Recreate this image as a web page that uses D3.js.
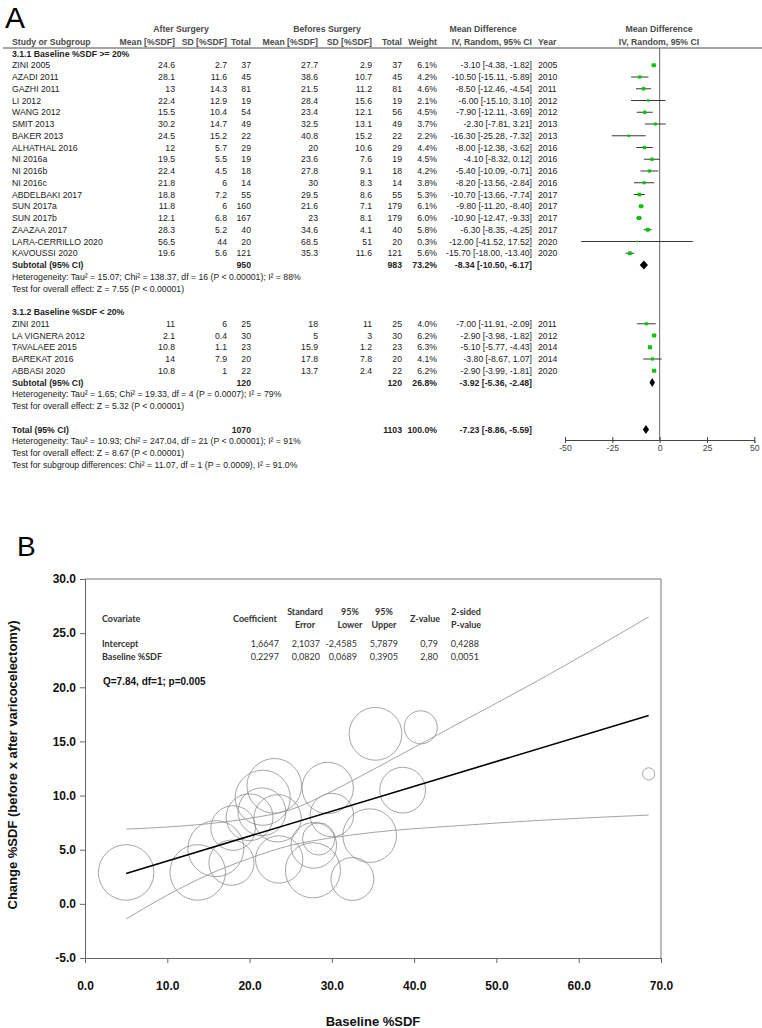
<!DOCTYPE html>
<html>
<head>
<meta charset="utf-8">
<script src="https://cdn.jsdelivr.net/npm/d3@7.9.0/dist/d3.min.js"></script>
<style>
  body { margin: 0; background: #fff; }
  svg { display: block; font-family: "Liberation Sans", Arial, sans-serif; }
</style>
</head>
<body>
<svg id="chart" width="762" height="1028"></svg>
<script>
// ---------- panel A : forest plot data ----------
const studies = ['ZINI 2005', 'AZADI 2011', 'GAZHI 2011', 'LI 2012', 'WANG 2012', 'SMIT 2013', 'BAKER 2013',
  'ALHATHAL 2016', 'NI 2016a', 'NI 2016b', 'NI 2016c', 'ABDELBAKI 2017', 'SUN 2017a', 'SUN 2017b',
  'ZAAZAA 2017', 'LARA-CERRILLO 2020', 'KAVOUSSI 2020',
  'ZINI 2011', 'LA VIGNERA 2012', 'TAVALAEE 2015', 'BAREKAT 2016', 'ABBASI 2020'];
const subgroup = [0, 0, 0, 0, 0, 0, 0, 0, 0, 0, 0, 0, 0, 0, 0, 0, 0, 1, 1, 1, 1, 1];
const afterMean = [24.6, 28.1, 13, 22.4, 15.5, 30.2, 24.5, 12, 19.5, 22.4, 21.8, 18.8, 11.8, 12.1, 28.3, 56.5, 19.6,
  11, 2.1, 10.8, 14, 10.8];
const afterSD = [2.7, 11.6, 14.3, 12.9, 10.4, 14.7, 15.2, 5.7, 5.5, 4.5, 6, 7.2, 6, 6.8, 5.2, 44, 5.6,
  6, 0.4, 1.1, 7.9, 1];
const afterN = [37, 45, 81, 19, 54, 49, 22, 29, 19, 18, 14, 55, 160, 167, 40, 20, 121, 25, 30, 23, 20, 22];
const beforeMean = [27.7, 38.6, 21.5, 28.4, 23.4, 32.5, 40.8, 20, 23.6, 27.8, 30, 29.5, 21.6, 23, 34.6, 68.5, 35.3,
  18, 5, 15.9, 17.8, 13.7];
const beforeSD = [2.9, 10.7, 11.2, 15.6, 12.1, 13.1, 15.2, 10.6, 7.6, 9.1, 8.3, 8.6, 7.1, 8.1, 4.1, 51, 11.6,
  11, 3, 1.2, 7.8, 2.4];
const beforeN = [37, 45, 81, 19, 56, 49, 22, 29, 19, 18, 14, 55, 179, 179, 40, 20, 121, 25, 30, 23, 20, 22];
const weights = [6.1, 4.2, 4.6, 2.1, 4.5, 3.7, 2.2, 4.4, 4.5, 4.2, 3.8, 5.3, 6.1, 6.0, 5.8, 0.3, 5.6,
  4.0, 6.2, 6.3, 4.1, 6.2];
const md = [-3.10, -10.50, -8.50, -6.00, -7.90, -2.30, -16.30, -8.00, -4.10, -5.40, -8.20, -10.70, -9.80, -10.90,
  -6.30, -12.00, -15.70, -7.00, -2.90, -5.10, -3.80, -2.90];
const ciLow = [-4.38, -15.11, -12.46, -15.10, -12.11, -7.81, -25.28, -12.38, -8.32, -10.09, -13.56, -13.66, -11.20,
  -12.47, -8.35, -41.52, -18.00, -11.91, -3.98, -5.77, -8.67, -3.99];
const ciHigh = [-1.82, -5.89, -4.54, 3.10, -3.69, 3.21, -7.32, -3.62, 0.12, -0.71, -2.84, -7.74, -8.40, -9.33,
  -4.25, 17.52, -13.40, -2.09, -1.82, -4.43, 1.07, -1.81];
const years = [2005, 2010, 2011, 2012, 2012, 2013, 2013, 2016, 2016, 2016, 2016, 2017, 2017, 2017, 2017, 2020, 2020,
  2011, 2012, 2014, 2014, 2020];

const subLabels = ['3.1.1 Baseline %SDF >= 20%', '3.1.2 Baseline %SDF < 20%'];
const subAfterN = [950, 120];
const subBeforeN = [983, 120];
const subWeight = ['73.2%', '26.8%'];
const subMD = [-8.34, -3.92];
const subLow = [-10.50, -5.36];
const subHigh = [-6.17, -2.48];
const subHet = ['Heterogeneity: Tau² = 15.07; Chi² = 138.37, df = 16 (P < 0.00001); I² = 88%',
  'Heterogeneity: Tau² = 1.65; Chi² = 19.33, df = 4 (P = 0.0007); I² = 79%'];
const subTest = ['Test for overall effect: Z = 7.55 (P < 0.00001)',
  'Test for overall effect: Z = 5.32 (P < 0.00001)'];

const totalAfterN = 1070, totalBeforeN = 1103, totalWeight = '100.0%';
const totalMD = [-7.23, -8.86, -5.59];
const totalNotes = ['Heterogeneity: Tau² = 10.93; Chi² = 247.04, df = 21 (P < 0.00001); I² = 91%',
  'Test for overall effect: Z = 8.67 (P < 0.00001)',
  'Test for subgroup differences: Chi² = 11.07, df = 1 (P = 0.0009), I² = 91.0%'];
const forestTicks = [-50, -25, 0, 25, 50];

// ---------- panel B : meta-regression ----------
const covariates = ['Intercept', 'Baseline %SDF'];
const coef = [1.6647, 0.2297];
const stdErr = [2.1037, 0.0820];
const lower95 = [-2.4585, 0.0689];
const upper95 = [5.7879, 0.3905];
const zValue = [0.79, 2.80];
const pValue = [0.4288, 0.0051];
// confidence band
const bandX = [5, 10, 15, 20, 25, 30, 35, 45, 55, 68.5];
const bandUpper = [6.9, 7.1, 7.4, 7.9, 8.7, 10.4, 12.4, 16.5, 20.6, 26.5];
const bandLower = [-1.4, 0.8, 2.7, 4.2, 5.4, 6.1, 6.6, 7.2, 7.7, 8.2];
const yTicksB = [-5, 0, 5, 10, 15, 20, 25, 30];
const xTicksB = [0, 10, 20, 30, 40, 50, 60, 70];

const svg = d3.select('#chart');
const fs = 8.7;
const dark = '#222';

function txt(g, x, y, s, opt = {}) {
  return g.append('text')
    .attr('x', x).attr('y', y)
    .attr('text-anchor', opt.anchor || 'start')
    .attr('font-size', opt.size || fs)
    .attr('font-weight', opt.bold ? 'bold' : 'normal')
    .attr('fill', opt.fill || dark)
    .attr('font-family', opt.family || null)
    .text(s);
}
const f2 = (v) => v.toFixed(2);
const ciText = (m, l, h) => `${f2(m)} [${f2(l)}, ${f2(h)}]`;

// ================= PANEL A =================
const A = svg.append('g');
txt(A, 5, 28, 'A', { size: 30, fill: '#000' });

// headers
const hc = '#4a4a4a';
txt(A, 181, 32, 'After Surgery', { anchor: 'middle', bold: true, fill: hc });
txt(A, 327, 32, 'Befores Surgery', { anchor: 'middle', bold: true, fill: hc });
txt(A, 483, 32, 'Mean Difference', { anchor: 'middle', bold: true, fill: hc });
txt(A, 659, 32, 'Mean Difference', { anchor: 'middle', bold: true, fill: hc });

const cols = [
  { x: 175, h: 'Mean [%SDF]', v: (k) => afterMean[k] },
  { x: 227, h: 'SD [%SDF]', v: (k) => afterSD[k] },
  { x: 251, h: 'Total', v: (k) => afterN[k] },
  { x: 318, h: 'Mean [%SDF]', v: (k) => beforeMean[k] },
  { x: 372, h: 'SD [%SDF]', v: (k) => beforeSD[k] },
  { x: 402, h: 'Total', v: (k) => beforeN[k] },
  { x: 437, h: 'Weight', v: (k) => weights[k].toFixed(1) + '%' },
  { x: 532, h: 'IV, Random, 95% CI', v: (k) => ciText(md[k], ciLow[k], ciHigh[k]) }
];
txt(A, 12, 45, 'Study or Subgroup', { bold: true, fill: hc });
cols.forEach((c) => txt(A, c.x, 45, c.h, { anchor: 'end', bold: true, fill: hc }));
txt(A, 538, 45, 'Year', { bold: true, fill: hc });
txt(A, 659, 45, 'IV, Random, 95% CI', { anchor: 'middle', bold: true, fill: hc });

A.append('line').attr('x1', 3).attr('x2', 762).attr('y1', 48).attr('y2', 48)
  .attr('stroke', '#888').attr('stroke-width', 1.6);

// row layout
const rowY = (i) => 53.5 + i * 11.75;
const rows = [];
let idx = 0;
subLabels.forEach((lab, g) => {
  rows.push({ type: 'group', i: idx++, g });
  studies.forEach((s, k) => { if (subgroup[k] === g) rows.push({ type: 'study', i: idx++, k }); });
  rows.push({ type: 'sub', i: idx++, g });
  rows.push({ type: 'note', i: idx++, text: subHet[g] });
  rows.push({ type: 'note', i: idx++, text: subTest[g] });
  idx++;
});
rows.push({ type: 'total', i: idx++ });
totalNotes.forEach((t) => rows.push({ type: 'note', i: idx++, text: t }));

const fx = d3.scaleLinear().domain([-50, 50]).range([565, 754.3]);
const axisY = 440;

// zero line
A.append('line').attr('x1', fx(0)).attr('x2', fx(0)).attr('y1', 48).attr('y2', axisY)
  .attr('stroke', '#666').attr('stroke-width', 1);

function diamond(y, m, l, h) {
  const d = `M${fx(l)},${y} L${fx(m)},${y - 4.5} L${fx(h)},${y} L${fx(m)},${y + 4.5} Z`;
  A.append('path').attr('d', d).attr('fill', '#000');
}

rows.forEach((r) => {
  const y = rowY(r.i);
  const b = y + 3;
  if (r.type === 'group') {
    txt(A, 12, b, subLabels[r.g], { bold: true });
  } else if (r.type === 'study') {
    const k = r.k;
    txt(A, 12, b, studies[k]);
    cols.forEach((c) => txt(A, c.x, b, String(c.v(k)), { anchor: 'end' }));
    txt(A, 538, b, String(years[k]));
    A.append('line').attr('x1', fx(ciLow[k])).attr('x2', fx(ciHigh[k]))
      .attr('y1', y).attr('y2', y).attr('stroke', '#222').attr('stroke-width', 0.9);
    const s = 1.5 + weights[k] * 0.4;
    A.append('rect').attr('x', fx(md[k]) - s / 2).attr('y', y - s / 2)
      .attr('width', s).attr('height', s).attr('fill', '#00c800');
  } else if (r.type === 'sub') {
    const g = r.g;
    txt(A, 12, b, 'Subtotal (95% CI)', { bold: true });
    txt(A, 251, b, String(subAfterN[g]), { anchor: 'end', bold: true });
    txt(A, 402, b, String(subBeforeN[g]), { anchor: 'end', bold: true });
    txt(A, 437, b, subWeight[g], { anchor: 'end', bold: true });
    txt(A, 532, b, ciText(subMD[g], subLow[g], subHigh[g]), { anchor: 'end', bold: true });
    diamond(y, subMD[g], subLow[g], subHigh[g]);
  } else if (r.type === 'total') {
    txt(A, 12, b, 'Total (95% CI)', { bold: true });
    txt(A, 251, b, String(totalAfterN), { anchor: 'end', bold: true });
    txt(A, 402, b, String(totalBeforeN), { anchor: 'end', bold: true });
    txt(A, 437, b, totalWeight, { anchor: 'end', bold: true });
    txt(A, 532, b, ciText(totalMD[0], totalMD[1], totalMD[2]), { anchor: 'end', bold: true });
    diamond(y, totalMD[0], totalMD[1], totalMD[2]);
  } else {
    txt(A, 12, b, r.text);
  }
});

// forest axis
const fAxis = A.append('g').attr('transform', `translate(0,${axisY})`)
  .call(d3.axisBottom(fx).tickValues(forestTicks).tickSize(3).tickPadding(2).tickFormat((d) => String(d)));
fAxis.select('.domain').attr('stroke', '#444');
fAxis.selectAll('.tick line').attr('y1', -3).attr('stroke', '#444');
fAxis.selectAll('.tick text').attr('font-size', fs).attr('fill', '#444')
  .attr('font-family', '"Liberation Sans", Arial, sans-serif');

// ================= PANEL B =================
const B = svg.append('g');
txt(B, 17, 556, 'B', { size: 28, fill: '#000' });

const bx = d3.scaleLinear().domain([0, 70]).range([85, 661]);
const by = d3.scaleLinear().domain([-5, 30]).range([958, 579]);
const br = d3.scaleSqrt().domain([0, 6.3]).range([0, 28]);

// frame: top and right
B.append('path').attr('d', `M${bx(0)},${by(30)} H${bx(70)} V${by(-5)}`)
  .attr('fill', 'none').attr('stroke', '#777').attr('stroke-width', 1);

const yAx = B.append('g').attr('transform', `translate(${bx(0)},0)`)
  .call(d3.axisLeft(by).tickValues(yTicksB).tickSize(5).tickPadding(4).tickFormat((d) => d.toFixed(1)));
const xAx = B.append('g').attr('transform', `translate(0,${by(-5)})`)
  .call(d3.axisBottom(bx).tickValues(xTicksB).tickSize(5).tickPadding(18).tickFormat((d) => d.toFixed(1)));
[yAx, xAx].forEach((a) => {
  a.select('.domain').attr('stroke', '#666');
  a.selectAll('.tick line').attr('stroke', '#666');
  a.selectAll('.tick text').attr('font-size', 12).attr('font-weight', 'bold').attr('fill', '#111')
    .attr('font-family', '"Liberation Sans", Arial, sans-serif');
});

// bubbles
B.append('g').selectAll('circle')
  .data(studies.map((s, k) => ({ x: beforeMean[k], y: -md[k], w: weights[k] })))
  .join('circle')
  .attr('cx', (d) => bx(d.x)).attr('cy', (d) => by(d.y)).attr('r', (d) => br(d.w))
  .attr('fill', 'none').attr('stroke', '#808080').attr('stroke-width', 0.7);

// confidence band
const bandLine = d3.line().x((d) => bx(d[0])).y((d) => by(d[1])).curve(d3.curveMonotoneX);
[bandUpper, bandLower].forEach((arr) => {
  B.append('path').attr('d', bandLine(bandX.map((x, i) => [x, arr[i]])))
    .attr('fill', 'none').attr('stroke', '#999').attr('stroke-width', 0.9);
});

// regression line
const xMin = d3.min(beforeMean), xMax = d3.max(beforeMean);
B.append('line')
  .attr('x1', bx(xMin)).attr('y1', by(coef[0] + coef[1] * xMin))
  .attr('x2', bx(xMax)).attr('y2', by(coef[0] + coef[1] * xMax))
  .attr('stroke', '#000').attr('stroke-width', 1.6);

// coefficient table
const tf = 'Lato, "Open Sans", sans-serif';
const tc = '#333';
const comma = (v, n) => v.toFixed(n).replace('.', ',');
txt(B, 102, 622, 'Covariate', { bold: true, size: 9, family: tf, fill: tc });
const tCols = [
  { x: 255, h: ['Coefficient'], v: (i) => comma(coef[i], 4), end: 279 },
  { x: 305, h: ['Standard', 'Error'], v: (i) => comma(stdErr[i], 4), end: 320 },
  { x: 350, h: ['95%', 'Lower'], v: (i) => comma(lower95[i], 4), end: 357 },
  { x: 384, h: ['95%', 'Upper'], v: (i) => comma(upper95[i], 4), end: 398 },
  { x: 425, h: ['Z-value'], v: (i) => comma(zValue[i], 2), end: 438 },
  { x: 466, h: ['2-sided', 'P-value'], v: (i) => comma(pValue[i], 4), end: 479 }
];
tCols.forEach((c) => {
  if (c.h.length === 1) {
    txt(B, c.x, 622, c.h[0], { anchor: 'middle', bold: true, size: 9, family: tf, fill: tc });
  } else {
    txt(B, c.x, 615, c.h[0], { anchor: 'middle', bold: true, size: 9, family: tf, fill: tc });
    txt(B, c.x, 628, c.h[1], { anchor: 'middle', bold: true, size: 9, family: tf, fill: tc });
  }
});
covariates.forEach((cv, i) => {
  const yb = 647 + i * 13;
  txt(B, 102, yb, cv, { bold: true, size: 9, family: tf, fill: tc });
  tCols.forEach((c) => txt(B, c.end, yb, c.v(i), { anchor: 'end', size: 9, family: tf, fill: tc }));
});
txt(B, 103, 685, 'Q=7.84, df=1; p=0.005', { bold: true, size: 10, fill: '#111' });

// axis titles
txt(B, (bx(0) + bx(70)) / 2, 1026, 'Baseline %SDF', { anchor: 'middle', bold: true, size: 13, fill: '#111' });
B.append('text').attr('transform', 'translate(17,765) rotate(-90)')
  .attr('text-anchor', 'middle').attr('font-size', 13).attr('font-weight', 'bold').attr('fill', '#111')
  .text('Change %SDF (before x after varicocelectomy)');
</script>
</body>
</html>
